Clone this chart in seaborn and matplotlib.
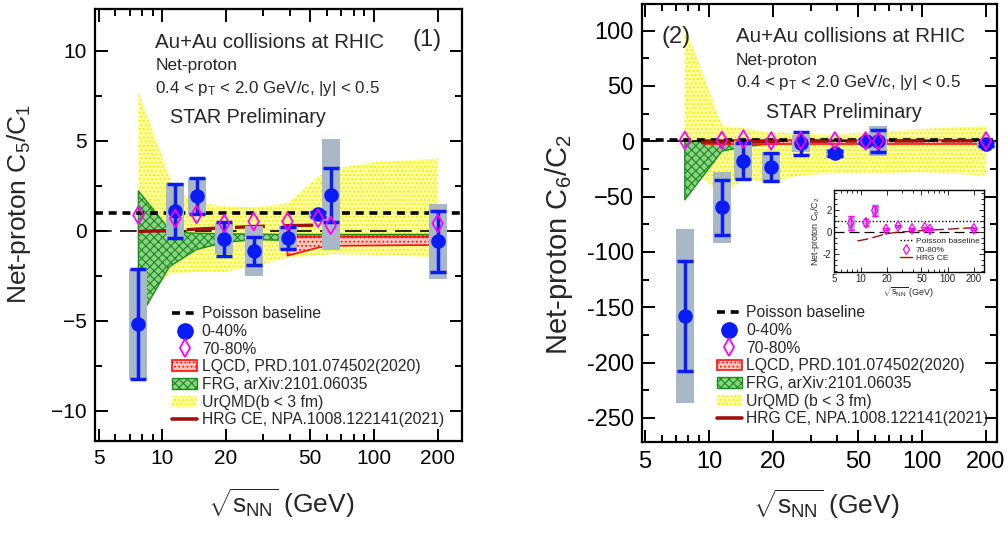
import matplotlib
matplotlib.use('Agg')
import matplotlib.pyplot as plt
from matplotlib.patches import Patch
from matplotlib.lines import Line2D
from matplotlib.ticker import FixedLocator, NullFormatter, MultipleLocator
import seaborn as sns

# beam energies (GeV)
energies = [7.7, 11.5, 14.5, 19.6, 27, 39, 54.4, 62.4, 200]

# C5/C1, 0-40% and 70-80%
c51_val = [-5.2, 1.1, 1.9, -0.45, -1.15, -0.4, 0.9, 2.0, -0.6]
c51_stat = [3.05, 1.5, 1.0, 0.95, 0.78, 0.6, 0.15, 1.5, 1.7]
c51_sys = [3.05, 1.55, 1.0, 0.85, 1.38, 0.65, 0.2, 3.06, 2.1]
c51_peri = [0.85, 0.67, 0.89, 0.39, 0.5, 0.5, 0.67, 0.28, 0.39]

# C6/C2, 0-40% and 70-80%
c62_val = [-158, -59.6, -18, -23.6, -2, -11, 0, 0, -2.7]
c62_stat = [50, 25, 16, 12.7, 10, 2, 2, 10, 2]
c62_sys = [79, 32, 17, 14, 8, 4, 2, 13.5, 3]
c62_peri = [0.8, 0.85, 1.95, 0.25, 0.55, 0.3, 0.4, 0.25, 0.3]
c62_peri_stat = [0.65, 0.3, 0.45, 0.1, 0.1, 0.1, 0.1, 0.1, 0.1]
c62_peri_sys = [0.7, 0.15, 0.6, 0.05, 0.05, 0.05, 0.05, 0.05, 0.05]

# model bands, panel 1
urqmd1_x = [7.7, 10.8, 11.5, 14.5, 19.6, 27, 39, 54.4, 62.4, 100, 200]
urqmd1_hi = [7.7, 3.0, 2.2, 1.6, 1.35, 1.3, 1.5, 3.0, 3.4, 3.8, 4.0]
urqmd1_lo = [-4.0, -2.4, -2.4, -2.3, -2.3, -2.0, -1.5, -1.4, -1.3, -1.35, -1.5]
frg1_x = [7.7, 10.8, 11.5, 14.5, 19.6, 27, 39, 54.4, 200]
frg1_hi = [2.2, 0.05, -0.1, -0.15, -0.18, -0.2, -0.22, -0.22, -0.22]
frg1_lo = [-4.95, -2.0, -1.8, -1.05, -0.67, -0.5, -0.55, -0.55, -0.55]
lqcd1_x = [39, 54.4, 62.4, 200]
lqcd1_hi = [-0.35, -0.35, -0.35, -0.35]
lqcd1_lo = [-1.4, -0.95, -0.85, -0.8]
hrg1_x = [7.7, 11.5, 14.5, 19.6, 27, 39, 54.4]
hrg1_y = [-0.05, 0.0, 0.08, 0.15, 0.22, 0.27, 0.3]

# model bands, panel 2
urqmd2_x = [7.7, 11.5, 14.5, 19.6, 27, 39, 54.4, 62.4, 100, 200]
urqmd2_hi = [105, 14.4, 11.7, 8, 7, 6, 8, 8, 11, 14]
urqmd2_lo = [-20, -48, -35, -37, -31, -29, -29, -29, -28, -31]
frg2_x = [7.7, 11.5, 14.5, 19.6, 27, 200]
frg2_hi = [0, -1, -1, -0.5, 0, 0]
frg2_lo = [-53, -9, -5, -2.5, -1.5, -1.5]
lqcd2_x = [9.5, 20, 39, 200]
lqcd2_hi = [1.2, 1.2, 1.2, 1.2]
lqcd2_lo = [-2.5, -2.5, -2.5, -2.5]
hrg2_x = [9.2, 11.5, 14.5, 19.6, 27, 39, 54.4, 62.4, 200]
hrg2_y = [-0.8, -0.65, -0.45, -0.15, 0.0, 0.08, 0.15, 0.18, 0.4]

xticks = [5, 10, 20, 50, 100, 200]
minor_x = [6, 7, 8, 9, 30, 40, 60, 70, 80, 90, 300]

BLUE = '#0a1cf5'
MAG = '#ff00ff'
GRAY = '#a9b8c6'
DRED = '#a01010'
FRG_FACE, FRG_EDGE = '#8fd08a', '#178f17'

sns.set_theme(style='ticks')
plt.rcParams['font.family'] = ['Liberation Sans', 'DejaVu Sans']
plt.rcParams['mathtext.fontset'] = 'custom'
plt.rcParams['mathtext.rm'] = 'Liberation Sans'
plt.rcParams['mathtext.it'] = 'Liberation Sans'
plt.rcParams['mathtext.bf'] = 'Liberation Sans:bold'
plt.rcParams['hatch.linewidth'] = 0.8

fig = plt.figure(figsize=(10.08, 5.36), dpi=100)
ax1 = fig.add_axes([0.0942, 0.177, 0.364, 0.806])
ax2 = fig.add_axes([0.637, 0.175, 0.352, 0.8175])


def style_axes(ax, xlim, ylim, ymajor, yminor, fs):
    ax.set_xscale('log')
    ax.set_xlim(*xlim)
    ax.set_ylim(*ylim)
    ax.xaxis.set_major_locator(FixedLocator(xticks))
    ax.set_xticklabels([str(t) for t in xticks])
    ax.xaxis.set_minor_locator(FixedLocator(minor_x))
    ax.xaxis.set_minor_formatter(NullFormatter())
    ax.yaxis.set_major_locator(MultipleLocator(ymajor))
    ax.yaxis.set_minor_locator(MultipleLocator(yminor))
    ax.tick_params(which='both', direction='in', top=True, right=True,
                   width=1.4, colors='black', labelsize=fs, pad=6)
    ax.tick_params(which='major', length=9)
    ax.tick_params(which='minor', length=5)
    for s in ax.spines.values():
        s.set_linewidth(1.6)
        s.set_color('black')


def draw_bands(ax, ux, ulo, uhi, fx, flo, fhi, lx, llo, lhi):
    ax.fill_between(ux, ulo, uhi, facecolor='#fdfd9c', edgecolor='#eeee00',
                    hatch='....', linewidth=0, zorder=1)
    ax.fill_between(fx, flo, fhi, facecolor=FRG_FACE, edgecolor=FRG_EDGE,
                    hatch='xxxx', linewidth=1.0, zorder=2)
    ax.fill_between(lx, llo, lhi, facecolor='#ffc8bc', edgecolor='#ff1010',
                    hatch='....', linewidth=1.2, zorder=3)


def draw_points(ax, cen, stat, sys_, peri):
    ax.errorbar(energies, cen, yerr=sys_, fmt='none', ecolor=GRAY,
                elinewidth=13, zorder=5)
    ax.errorbar(energies, cen, yerr=stat, fmt='none', ecolor=BLUE,
                elinewidth=2.5, capsize=6, capthick=2.5, zorder=6)
    sns.scatterplot(x=energies, y=cen, ax=ax, marker='o', s=110, color=BLUE,
                    linewidth=0, zorder=7, legend=False)
    sns.scatterplot(x=energies, y=peri, ax=ax, marker='d', s=80, color=MAG,
                    linewidth=1.3, zorder=8, legend=False)
    ax.collections[-1].set_facecolor('none')
    ax.collections[-1].set_edgecolor(MAG)


# ---------------- panel 1 ----------------
style_axes(ax1, (4.8, 260), (-11.7, 12.3), 5, 2.5, 15)
ax1.yaxis.set_major_locator(FixedLocator([-10, -5, 0, 5, 10]))
ax1.set_yticklabels(['\u221210', '\u22125', '0', '5', '10'])
draw_bands(ax1, urqmd1_x, urqmd1_lo, urqmd1_hi, frg1_x, frg1_lo, frg1_hi,
           lqcd1_x, lqcd1_lo, lqcd1_hi)
ax1.axhline(0, color='black', lw=1.2, ls=(0, (10, 5)), zorder=3.5)
ax1.axhline(1, color='black', lw=2.6, ls=(0, (2.2, 1.6)), zorder=4)
sns.lineplot(x=hrg1_x, y=hrg1_y, ax=ax1, color=DRED, lw=2.4, zorder=4,
             estimator=None, sort=False, legend=False)
ax1.lines[-1].set_linestyle((0, (9, 5.5)))
draw_points(ax1, c51_val, c51_stat, c51_sys, c51_peri)

ax1.set_ylabel('Net-proton C$_5$/C$_1$', fontsize=19)
ax1.yaxis.set_label_coords(-0.168, 0.55)
ax1.set_xlabel(r'$\sqrt{s_{NN}}$ (GeV)', fontsize=19)
ax1.xaxis.set_label_coords(0.508, -0.105)

ax1.text(0.165, 0.923, 'Au+Au collisions at RHIC', transform=ax1.transAxes,
         fontsize=14.8, va='center')
ax1.text(0.865, 0.928, '(1)', transform=ax1.transAxes, fontsize=17, va='center')
ax1.text(0.165, 0.87, 'Net-proton', transform=ax1.transAxes, fontsize=12.5,
         va='center')
ax1.text(0.165, 0.817, r'0.4 < p$_{\rm T}$ < 2.0 GeV/c, |y| < 0.5',
         transform=ax1.transAxes, fontsize=12.2, va='center')
ax1.text(0.205, 0.748, 'STAR Preliminary', transform=ax1.transAxes,
         fontsize=14.2, va='center')

# ---------------- panel 2 ----------------
style_axes(ax2, (4.85, 225), (-272, 124), 50, 25, 17)
ax2.yaxis.set_major_locator(FixedLocator([-250, -200, -150, -100, -50, 0, 50, 100]))
ax2.set_yticklabels(['-250', '-200', '-150', '-100', '\u221250', '0', '50', '100'])
draw_bands(ax2, urqmd2_x, urqmd2_lo, urqmd2_hi, frg2_x, frg2_lo, frg2_hi,
           lqcd2_x, lqcd2_lo, lqcd2_hi)
ax2.axhline(0, color='black', lw=1.2, ls=(0, (10, 5)), zorder=3.5)
ax2.axhline(1, color='black', lw=2.6, ls=(0, (2.2, 1.6)), zorder=4)
sns.lineplot(x=hrg2_x, y=hrg2_y, ax=ax2, color=DRED, lw=2.4, zorder=4,
             estimator=None, sort=False, legend=False)
ax2.lines[-1].set_linestyle((0, (9, 5.5)))
draw_points(ax2, c62_val, c62_stat, c62_sys, c62_peri)

ax2.set_ylabel('Net-proton C$_6$/C$_2$', fontsize=21)
ax2.yaxis.set_label_coords(-0.19, 0.45)
ax2.set_xlabel(r'$\sqrt{s_{NN}}$ (GeV)', fontsize=19)
ax2.xaxis.set_label_coords(0.52, -0.103)

ax2.text(0.055, 0.925, '(2)', transform=ax2.transAxes, fontsize=17, va='center')
ax2.text(0.265, 0.925, 'Au+Au collisions at RHIC', transform=ax2.transAxes,
         fontsize=14.8, va='center')
ax2.text(0.265, 0.87, 'Net-proton', transform=ax2.transAxes, fontsize=12.5,
         va='center')
ax2.text(0.265, 0.82, r'0.4 < p$_{\rm T}$ < 2.0 GeV/c, |y| < 0.5',
         transform=ax2.transAxes, fontsize=12.2, va='center')
ax2.text(0.35, 0.752, 'STAR Preliminary', transform=ax2.transAxes,
         fontsize=14.2, va='center')

# ---------------- legends ----------------
def legend_handles(urqmd_label):
    return [
        Line2D([], [], color='black', lw=2.6, ls=(0, (2.2, 1.6))),
        Line2D([], [], color=BLUE, marker='o', ls='none', markersize=11),
        Line2D([], [], color=MAG, marker='d', ls='none', markersize=9,
               markerfacecolor='none', markeredgewidth=1.3),
        Patch(facecolor='#ffc8bc', edgecolor='#ff1010', hatch='....', lw=1.2),
        Patch(facecolor=FRG_FACE, edgecolor=FRG_EDGE, hatch='xxxx', lw=1.0),
        Patch(facecolor='#fdfd9c', edgecolor='#eeee00', hatch='....', lw=0),
        Line2D([], [], color=DRED, lw=2.6),
    ], ['Poisson baseline', '0-40%', '70-80%', 'LQCD, PRD.101.074502(2020)',
        'FRG, arXiv:2101.06035', urqmd_label, 'HRG CE, NPA.1008.122141(2021)']


for ax, lab in [(ax1, 'UrQMD(b < 3 fm)'), (ax2, 'UrQMD (b < 3 fm)')]:
    h, l = legend_handles(lab)
    ax.legend(h, l, loc='upper left', bbox_to_anchor=(0.21, 0.312),
              frameon=False, fontsize=11.3, handlelength=1.6,
              handletextpad=0.3, labelspacing=0.17, borderpad=0,
              borderaxespad=0)

# ---------------- inset ----------------
axi = fig.add_axes([0.827, 0.4925, 0.149, 0.153])
axi.set_facecolor('white')
axi.set_xscale('log')
axi.set_xlim(4.9, 260)
axi.set_ylim(-3.6, 3.8)
axi.xaxis.set_major_locator(FixedLocator(xticks))
axi.set_xticklabels([str(t) for t in xticks])
axi.xaxis.set_minor_locator(FixedLocator(minor_x))
axi.xaxis.set_minor_formatter(NullFormatter())
axi.yaxis.set_major_locator(FixedLocator([-2, 0, 2]))
axi.set_yticklabels(['-2', '0', '2'])
axi.yaxis.set_minor_locator(MultipleLocator(0.5))
axi.tick_params(which='both', direction='in', top=True, right=True,
                labelsize=7, pad=1.5, width=0.7)
axi.tick_params(which='major', length=3.5)
axi.tick_params(which='minor', length=2)
for s in axi.spines.values():
    s.set_linewidth(1.0)
    s.set_color('black')
axi.axhline(0, color='black', lw=0.9, ls=(0, (8, 4)))
axi.axhline(1, color='black', lw=1.0, ls=(0, (1, 1.5)))
sns.lineplot(x=hrg2_x, y=hrg2_y, ax=axi, color=DRED, lw=1.0,
             estimator=None, sort=False, legend=False)
axi.lines[-1].set_linestyle((0, (8, 3)))
axi.errorbar(energies, c62_peri, yerr=c62_peri_sys, fmt='none', ecolor=GRAY,
             elinewidth=5, zorder=3)
axi.errorbar(energies, c62_peri, yerr=c62_peri_stat, fmt='none', ecolor=MAG,
             elinewidth=1.0, capsize=2.5, capthick=1.0, zorder=4)
sns.scatterplot(x=energies, y=c62_peri, ax=axi, marker='d', s=28, color=MAG,
                linewidth=0.9, zorder=5, legend=False)
axi.collections[-1].set_facecolor('none')
axi.collections[-1].set_edgecolor(MAG)
axi.set_ylabel('Net-proton C$_6$/C$_2$', fontsize=6.5, labelpad=1)
axi.set_xlabel(r'$\sqrt{s_{NN}}$ (GeV)', fontsize=6.5, labelpad=1)
axi.legend([Line2D([], [], color='black', lw=1.0, ls=(0, (1, 1.5))),
            Line2D([], [], color=MAG, marker='d', ls='none', markersize=5,
                   markerfacecolor='none', markeredgewidth=0.9),
            Line2D([], [], color=DRED, lw=1.0)],
           ['Poisson baseline', '70-80%', 'HRG CE'],
           loc='lower left', bbox_to_anchor=(0.44, 0.12), frameon=False,
           fontsize=6, handlelength=1.5, handletextpad=0.4,
           labelspacing=0.1, borderpad=0, borderaxespad=0)

fig.savefig('out.png', dpi=100)
